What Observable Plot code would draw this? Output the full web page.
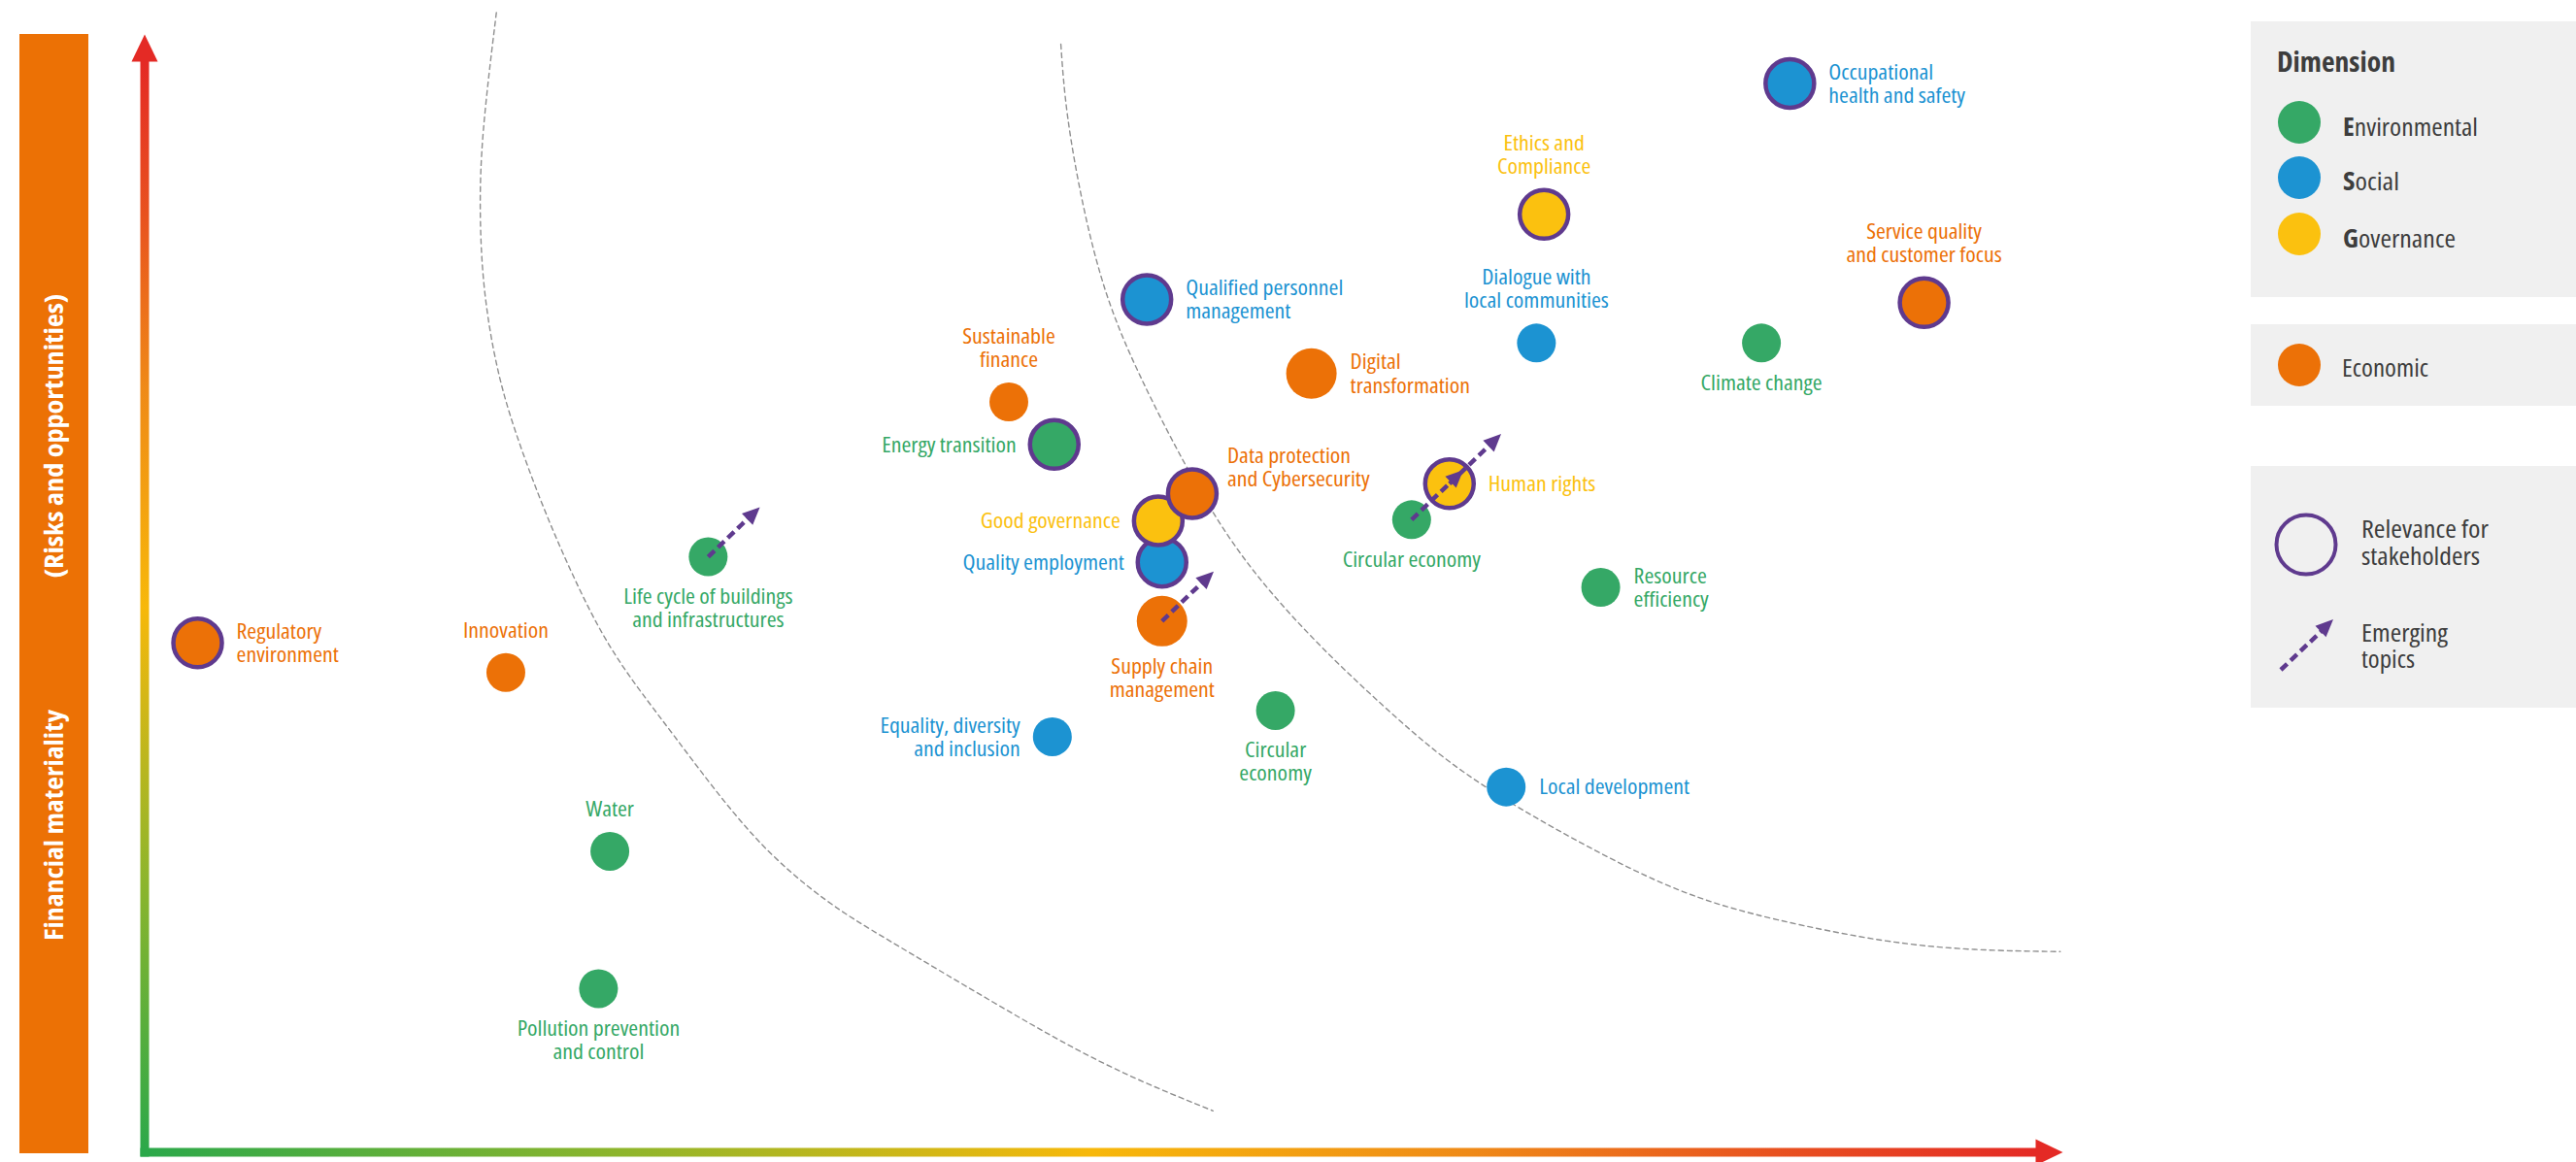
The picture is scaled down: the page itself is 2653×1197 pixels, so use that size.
<!DOCTYPE html>
<html><head><meta charset="utf-8">
<script src="https://cdn.jsdelivr.net/npm/d3@7"></script>
<script src="https://cdn.jsdelivr.net/npm/@observablehq/plot@0.6"></script>
<style>
html,body{margin:0;padding:0;background:#fff;}
#wrap{position:relative;width:2653px;height:1197px;overflow:hidden;}
#chart{position:absolute;left:0;top:0;}
#overlay{position:absolute;left:0;top:0;pointer-events:none;}
#chart text, #overlay text{font-stretch:75%;}
</style></head>
<body><div id="wrap"><div id="chart"></div><svg id="overlay" width="2653" height="1197" xmlns="http://www.w3.org/2000/svg"></svg></div>
<script>
// ---------- data ----------
const topics = [
  "Regulatory\nenvironment", "Innovation", "Life cycle of buildings\nand infrastructures", "Water",
  "Pollution prevention\nand control", "Sustainable\nfinance", "Energy transition",
  "Qualified personnel\nmanagement", "Digital\ntransformation", "Quality employment", "Good governance",
  "Data protection\nand Cybersecurity", "Supply chain\nmanagement", "Equality, diversity\nand inclusion",
  "Circular\neconomy", "Ethics and\nCompliance", "Dialogue with\nlocal communities", "Circular economy",
  "Human rights", "Resource\nefficiency", "Local development", "Occupational\nhealth and safety",
  "Service quality\nand customer focus", "Climate change"
];
const dimension = [
  "Economic", "Economic", "Environmental", "Environmental",
  "Environmental", "Economic", "Environmental",
  "Social", "Economic", "Social", "Governance",
  "Economic", "Economic", "Social",
  "Environmental", "Governance", "Social", "Environmental",
  "Governance", "Environmental", "Social", "Social",
  "Economic", "Environmental"
];
// impact materiality (x) and financial materiality (y), 0–100
const impact = [2.8, 19.1, 29.8, 24.6, 24.0, 45.7, 48.1, 53.0, 61.7, 53.8, 53.6, 55.4, 53.8, 48.0, 59.8, 74.0, 73.6, 67.0, 69.0, 77.0, 72.0, 87.0, 94.1, 85.5];
const financial = [46.7, 44.0, 54.6, 27.6, 15.0, 68.8, 64.9, 78.2, 71.4, 54.1, 57.9, 60.4, 48.7, 38.1, 40.5, 86.0, 74.2, 58.0, 61.3, 51.8, 33.5, 98.0, 77.9, 74.2];
const large = [true, false, false, false, false, false, true, true, true, true, true, true, true, false, false, true, false, false, true, false, false, true, true, false];
const stakeholder = [true, false, false, false, false, false, true, true, false, true, true, true, false, false, false, true, false, false, true, false, false, true, true, false];
const emerging = [false, false, true, false, false, false, false, false, false, false, false, false, true, false, false, false, false, true, true, false, false, false, false, false];
const labelSide = ["right", "top", "bottom", "top", "bottom", "top", "left", "right", "right", "left", "left", "upper-right", "bottom", "left", "bottom", "top", "top", "bottom", "right", "right", "right", "right", "top", "bottom"];

const dimensions = ["Environmental", "Social", "Governance", "Economic"];
const dimensionColors = ["#35A866", "#1C93D2", "#FBC10F", "#EC7107"];

// materiality threshold curves (dashed)
const innerArcX = [18.6, 17.8, 17.7, 17.9, 18.6, 19.5, 21.1, 22.9, 24.8, 27.8, 32.2, 36.2, 38.9, 44.9, 50.8, 56.5];
const innerArcY = [104.5, 93.1, 86.0, 78.9, 71.8, 66.4, 58.9, 51.8, 45.4, 38.7, 28.4, 22.7, 19.9, 13.7, 7.8, 3.8];
const outerArcX = [48.45, 48.7, 49.6, 50.8, 52.5, 54.9, 57.2, 59.6, 62.6, 65.5, 68.3, 71.1, 74.3, 78.7, 82.2, 85.9, 92.1, 96.8, 101.3];
const outerArcY = [101.6, 95.4, 86.6, 78.4, 71.5, 63.3, 56.5, 51.1, 45.6, 40.9, 36.6, 33.2, 29.9, 25.8, 23.2, 21.4, 19.2, 18.5, 18.4];

// ---------- build ----------
const PURPLE = "#5F3A8E";
const FONT = '"Open Sans", "Noto Sans", sans-serif';
const ns = "http://www.w3.org/2000/svg";
const data = topics.map((t, i) => ({
  topic: t, dimension: dimension[i], x: impact[i], y: financial[i],
  large: large[i], stakeholder: stakeholder[i], emerging: emerging[i], side: labelSide[i]
}));
const inner = innerArcX.map((x, i) => ({x, y: innerArcY[i]}));
const outer = outerArcX.map((x, i) => ({x, y: outerArcY[i]}));

function gradientDefs(index, scales) {
  const defs = document.createElementNS(ns, "defs");
  const x0 = scales.x(0), x1 = scales.x(100), y0 = scales.y(0), y1 = scales.y(100);
  const mk = (id, a, b, c, d, stops) => {
    const g = document.createElementNS(ns, "linearGradient");
    g.setAttribute("id", id);
    g.setAttribute("gradientUnits", "userSpaceOnUse");
    g.setAttribute("x1", a); g.setAttribute("y1", b); g.setAttribute("x2", c); g.setAttribute("y2", d);
    for (const [o, col] of stops) {
      const s = document.createElementNS(ns, "stop");
      s.setAttribute("offset", o); s.setAttribute("stop-color", col);
      g.appendChild(s);
    }
    defs.appendChild(g);
  };
  const stops = [[0, "#2BA84A"], [0.25, "#8DB52C"], [0.5, "#F7B80A"], [0.7, "#EF8A17"], [0.86, "#E8521F"], [1, "#E42A25"]];
  mk("gradH", x0, y0, x1, y0, stops);
  mk("gradV", x0, y0, x0, y1, stops);
  return defs;
}

const sideOpts = {
  "right": r => ({dx: r + 14, dy: 0, textAnchor: "start", lineAnchor: "middle"}),
  "upper-right": r => ({dx: r + 10, dy: -27, textAnchor: "start", lineAnchor: "middle"}),
  "left": r => ({dx: -(r + 13), dy: 0, textAnchor: "end", lineAnchor: "middle"}),
  "top": r => ({dx: 0, dy: -(r + 16), textAnchor: "middle", lineAnchor: "bottom"}),
  "bottom": r => ({dx: 0, dy: r + 11, textAnchor: "middle", lineAnchor: "top"})
};
const textMarks = [];
for (const side of Object.keys(sideOpts)) {
  for (const isLarge of [true, false]) {
    const subset = data.filter(d => d.side === side && d.large === isLarge);
    if (!subset.length) continue;
    textMarks.push(Plot.text(subset, {
      x: "x", y: "y", text: "topic", fill: "dimension",
      fontFamily: FONT, fontSize: 22, lineHeight: 1.1,
      ...sideOpts[side](isLarge ? 26 : 20)
    }));
  }
}

const plot = Plot.plot({
  width: 2653, height: 1197,
  marginLeft: 148.5, marginRight: 557, marginTop: 63, marginBottom: 10.5,
  x: {domain: [0, 100], axis: null},
  y: {domain: [0, 100], axis: null},
  color: {domain: dimensions, range: dimensionColors},
  style: {background: "transparent", overflow: "visible"},
  marks: [
    gradientDefs,
    Plot.line(inner, {x: "x", y: "y", curve: "basis", stroke: "#8f8f8f", strokeWidth: 1.4, strokeDasharray: "5,4"}),
    Plot.line(outer, {x: "x", y: "y", curve: "basis", stroke: "#8f8f8f", strokeWidth: 1.4, strokeDasharray: "5,4"}),
    Plot.link([0], {x1: 0, y1: 0, x2: 100, y2: 0, stroke: "url(#gradH)", strokeWidth: 9, strokeLinecap: "square", markerEnd: "arrow"}),
    Plot.link([0], {x1: 0, y1: 0, x2: 0, y2: 100, stroke: "url(#gradV)", strokeWidth: 9, strokeLinecap: "square", markerEnd: "arrow"}),
    Plot.dot(data.filter(d => !d.large), {x: "x", y: "y", r: 20, fill: "dimension"}),
    Plot.dot(data.filter(d => d.large && !d.stakeholder), {x: "x", y: "y", r: 26, fill: "dimension"}),
    Plot.dot(data.filter(d => d.large && d.stakeholder), {x: "x", y: "y", r: 25, fill: "dimension", stroke: PURPLE, strokeWidth: 4.5}),
    Plot.link(data.filter(d => d.emerging), {
      x1: "x", y1: "y", x2: d => d.x + 2.4, y2: d => d.y + 4.0,
      stroke: PURPLE, strokeWidth: 4.5, strokeDasharray: "9,5", markerEnd: "arrow"
    }),
    ...textMarks
  ]
});

// filled arrow heads
plot.querySelectorAll("marker").forEach(m => {
  const s = m.getAttribute("stroke") || "";
  const p = m.querySelector("path");
  if (!p) return;
  if (s.startsWith("url")) {
    p.setAttribute("d", "M0,-2.25L4.67,0L0,2.25Z");
    p.setAttribute("fill", "#E42A25");
  } else {
    p.setAttribute("d", "M-3,-2.7L3,0L-3,2.7Z");
    p.setAttribute("fill", s);
  }
  p.setAttribute("stroke", "none");
  m.setAttribute("stroke", "none");
});
document.getElementById("chart").appendChild(plot);

// ---------- side bar + legend ----------
const TXT = "#3D3D3D";
const ov = document.getElementById("overlay");
const env = dimensionColors[0], soc = dimensionColors[1], gov = dimensionColors[2], eco = dimensionColors[3];
const T = (x, y, size, len, content, extra = "") =>
  `<text x="${x}" y="${y}" font-size="${size}" textLength="${len}" lengthAdjust="spacingAndGlyphs" ${extra}>${content}</text>`;
ov.innerHTML = `
<rect x="20" y="35" width="71" height="1153" fill="#EC7105"/>
<g font-family='${FONT}' font-weight="bold" font-size="26" fill="#fff" text-anchor="middle">
  <text transform="translate(65,449) rotate(-90)" textLength="293" lengthAdjust="spacingAndGlyphs">(Risks and opportunities)</text>
  <text transform="translate(65,850) rotate(-90)" textLength="238" lengthAdjust="spacingAndGlyphs">Financial materiality</text>
</g>
<g font-family='${FONT}' fill="${TXT}">
  <rect x="2318" y="22" width="335" height="284" fill="#F0F0F0"/>
  ${T(2345, 74, 28, 122, "Dimension", 'font-weight="bold"')}
  <circle cx="2368" cy="126" r="22" fill="${env}"/>
  <circle cx="2368" cy="183" r="22" fill="${soc}"/>
  <circle cx="2368" cy="241" r="22" fill="${gov}"/>
  ${T(2413, 140, 26, 139, '<tspan font-weight="bold">E</tspan>nvironmental')}
  ${T(2413, 196, 26, 58, '<tspan font-weight="bold">S</tspan>ocial')}
  ${T(2413, 255, 26, 116, '<tspan font-weight="bold">G</tspan>overnance')}
  <rect x="2318" y="334" width="335" height="84" fill="#F0F0F0"/>
  <circle cx="2368" cy="376" r="22" fill="${eco}"/>
  ${T(2412, 388, 26, 89, "Economic")}
  <rect x="2318" y="480" width="335" height="249" fill="#F0F0F0"/>
  <circle cx="2375" cy="561" r="30.5" fill="none" stroke="${PURPLE}" stroke-width="4"/>
  ${T(2432, 554, 26, 131, "Relevance for")}
  ${T(2432, 582, 26, 122, "stakeholders")}
  <line x1="2349" y1="690" x2="2392" y2="649" stroke="${PURPLE}" stroke-width="4.5" stroke-dasharray="9,5"/>
  <polygon points="2403,638 2395.5,656.3 2384.5,644.7" fill="${PURPLE}"/>
  ${T(2432, 661, 26, 89, "Emerging")}
  ${T(2432, 688, 26, 55, "topics")}
</g>`;

// calibrate label width to the reference ("Local development" ≈ 155 px wide)
const probe = document.createElementNS(ns, "text");
probe.setAttribute("font-family", FONT);
probe.setAttribute("font-size", 22);
probe.textContent = "Local development";
ov.appendChild(probe);
const k = Math.min(1.2, Math.max(0.6, 155 / probe.getComputedTextLength()));
ov.removeChild(probe);
plot.querySelectorAll('g[aria-label="text"] text').forEach(t => {
  const tr = t.getAttribute("transform");
  if (tr) t.setAttribute("transform", `${tr} scale(${k},1)`);
});
</script>
</body></html>
